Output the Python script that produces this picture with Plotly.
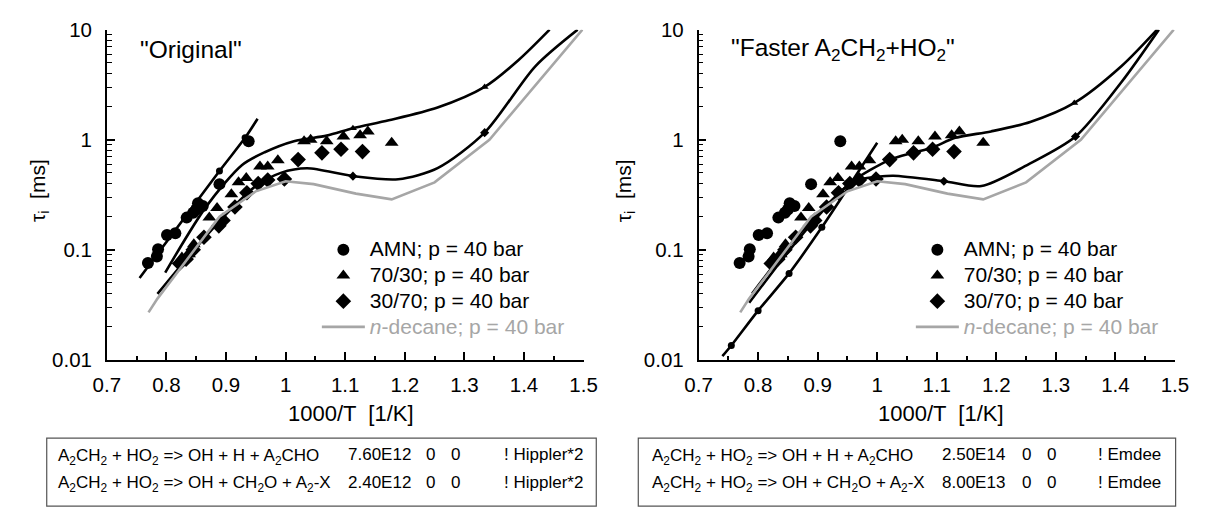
import plotly.graph_objects as go

W, H = 1216, 518

# ---------------- experimental data (same in both panels) ----------------
amn_x = [0.769, 0.784, 0.786, 0.801, 0.815, 0.834, 0.845, 0.850, 0.853, 0.861, 0.889, 0.938]
amn_y = [0.076, 0.087, 0.101, 0.136, 0.141, 0.196, 0.217, 0.232, 0.265, 0.250, 0.395, 0.97]

m7030_x = [0.826, 0.834, 0.838, 0.846, 0.872, 0.885, 0.909, 0.921, 0.934, 0.957, 0.970, 0.987,
           1.031, 1.042, 1.069, 1.097, 1.125, 1.138, 1.178]
m7030_y = [0.085, 0.088, 0.091, 0.112, 0.196, 0.24, 0.32, 0.41, 0.45, 0.57, 0.57, 0.65,
           0.97, 1.00, 0.97, 1.07, 1.10, 1.19, 0.94]

m3070_x = [0.822, 0.833, 0.845, 0.863, 0.888, 0.895, 0.915, 0.935, 0.954, 0.970, 0.998,
           1.021, 1.061, 1.093, 1.129]
m3070_y = [0.075, 0.082, 0.100, 0.130, 0.165, 0.185, 0.245, 0.33, 0.40, 0.43, 0.44,
           0.66, 0.76, 0.82, 0.78]

# n-decane simulation (grey, both panels)
dec_x = [0.770, 0.785, 0.889, 0.950, 1.000, 1.047, 1.118, 1.178, 1.250, 1.342, 1.498]
dec_y = [0.027, 0.036, 0.200, 0.340, 0.420, 0.395, 0.324, 0.287, 0.410, 1.00, 10.0]

# ---------------- "Original" simulations ----------------
L_amn_x = [0.755, 0.889, 0.932, 0.953]
L_amn_y = [0.0555, 0.52, 1.04, 1.55]
L_amn_mx = [0.889, 0.932]
L_amn_my = [0.52, 1.04]

L_up_x = [0.798, 0.867, 0.927, 0.965, 1.014, 1.069, 1.113, 1.173, 1.255, 1.334, 1.391, 1.443]
L_up_y = [0.062, 0.248, 0.59, 0.77, 0.97, 1.09, 1.27, 1.50, 1.96, 3.02, 5.3, 10.0]
L_up_mx = [1.113, 1.334]
L_up_my = [1.27, 3.02]

L_lo_x = [0.785, 0.850, 0.900, 0.950, 0.992, 1.036, 1.113, 1.189, 1.255, 1.334, 1.419, 1.490]
L_lo_y = [0.0397, 0.105, 0.21, 0.38, 0.50, 0.55, 0.467, 0.438, 0.552, 1.16, 4.65, 10.0]
L_lo_mx = [1.113, 1.334]
L_lo_my = [0.467, 1.16]

# ---------------- "Faster" simulations ----------------
R_amn_x = [0.740, 0.755, 0.800, 0.852, 0.907, 0.950, 1.000]
R_amn_y = [0.0108, 0.0135, 0.028, 0.061, 0.160, 0.36, 0.94]
R_amn_mx = [0.755, 0.800, 0.852, 0.907]
R_amn_my = [0.0135, 0.028, 0.061, 0.160]

R_up_x = [0.785, 0.850, 0.900, 0.956, 1.022, 1.060, 1.093, 1.131, 1.191, 1.257, 1.331, 1.410, 1.470]
R_up_y = [0.033, 0.095, 0.20, 0.41, 0.66, 0.76, 0.85, 1.04, 1.19, 1.45, 2.16, 4.65, 10.0]
R_up_mx = [1.331]
R_up_my = [2.16]

R_lo_x = [0.790, 0.850, 0.900, 0.950, 0.975, 1.000, 1.027, 1.112, 1.175, 1.257, 1.333, 1.410, 1.473]
R_lo_y = [0.040, 0.105, 0.21, 0.38, 0.44, 0.46, 0.47, 0.42, 0.38, 0.61, 1.07, 3.33, 10.0]
R_lo_mx = [1.112, 1.333]
R_lo_my = [0.42, 1.07]

x_ticks = [0.7, 0.8, 0.9, 1.0, 1.1, 1.2, 1.3, 1.4, 1.5]
x_labels = ["0.7", "0.8", "0.9", "1", "1.1", "1.2", "1.3", "1.4", "1.5"]
y_ticks = [0.01, 0.1, 1, 10]
y_labels = ["0.01", "0.1", "1", "10"]

LEG_FS = "font-size:21px"
legend_names = [f"<span style='{LEG_FS}'>AMN; p = 40 bar</span>",
                f"<span style='{LEG_FS}'>70/30; p = 40 bar</span>",
                f"<span style='{LEG_FS}'>30/70; p = 40 bar</span>",
                f"<span style='{LEG_FS};color:#a6a6a6'><i>n</i>-decane; p = 40 bar</span>"]

left_title = '"Original"'
right_title = '"Faster A<sub>2</sub>CH<sub>2</sub>+HO<sub>2</sub>"'

box_rows = [
    "A<sub>2</sub>CH<sub>2</sub> + HO<sub>2</sub> => OH + H + A<sub>2</sub>CHO",
    "A<sub>2</sub>CH<sub>2</sub> + HO<sub>2</sub> => OH + CH<sub>2</sub>O + A<sub>2</sub>-X",
]
left_rates = ["7.60E12", "2.40E12"]
right_rates = ["2.50E14", "8.00E13"]
temp_exp = ["0", "0"]          # b and E columns of the Arrhenius expression
left_src = ["! Hippler*2", "! Hippler*2"]
right_src = ["! Emdee", "! Emdee"]

FONT = "Liberation Sans, Arial, sans-serif"
BLACK = "#000000"
GREY = "#a6a6a6"

fig = go.Figure()


def px_x(p):
    return p / W


def px_y(p):
    return (H - p) / H


def add_panel(xa, ya, legend, sims):
    for (sx, sy, mx, my, sym) in sims:
        fig.add_trace(go.Scatter(x=sx, y=sy, mode="lines", xaxis=xa, yaxis=ya,
                                 line=dict(color=BLACK, width=2.6, shape="spline", smoothing=0.8),
                                 showlegend=False, hoverinfo="skip"))
        fig.add_trace(go.Scatter(x=mx, y=my, mode="markers", xaxis=xa, yaxis=ya,
                                 marker=dict(symbol=sym, size=7, color=BLACK),
                                 showlegend=False, hoverinfo="skip"))
    fig.add_trace(go.Scatter(x=amn_x, y=amn_y, mode="markers", xaxis=xa, yaxis=ya,
                             name=legend_names[0], legend=legend,
                             marker=dict(symbol="circle", size=12, color=BLACK)))
    fig.add_trace(go.Scatter(x=m7030_x, y=m7030_y, mode="markers", xaxis=xa, yaxis=ya,
                             name=legend_names[1], legend=legend,
                             marker=dict(symbol="triangle-up", size=12, color=BLACK)))
    fig.add_trace(go.Scatter(x=m3070_x, y=m3070_y, mode="markers", xaxis=xa, yaxis=ya,
                             name=legend_names[2], legend=legend,
                             marker=dict(symbol="diamond", size=12, color=BLACK)))
    fig.add_trace(go.Scatter(x=dec_x, y=dec_y, mode="lines", xaxis=xa, yaxis=ya,
                             name=legend_names[3], legend=legend,
                             line=dict(color=GREY, width=2.6)))


add_panel("x", "y", "legend", [
    (L_amn_x, L_amn_y, L_amn_mx, L_amn_my, "circle"),
    (L_up_x, L_up_y, L_up_mx, L_up_my, "triangle-up"),
    (L_lo_x, L_lo_y, L_lo_mx, L_lo_my, "diamond"),
])
add_panel("x2", "y2", "legend2", [
    (R_amn_x, R_amn_y, R_amn_mx, R_amn_my, "circle"),
    (R_up_x, R_up_y, R_up_mx, R_up_my, "triangle-up"),
    (R_lo_x, R_lo_y, R_lo_mx, R_lo_my, "diamond"),
])

minor_y = [m * 10 ** e for e in (-2, -1, 0) for m in range(2, 10)]

xa_common = dict(range=[0.7, 1.5], showline=True, linecolor=BLACK, linewidth=1.5,
                 showgrid=False, zeroline=False, ticks="inside", ticklen=8, tickwidth=1.5,
                 tickcolor=BLACK, tickvals=x_ticks, ticktext=x_labels,
                 tickfont=dict(family=FONT, size=20.5, color=BLACK), ticklabelstandoff=6,
                 minor=dict(ticks="inside", ticklen=4, tickwidth=1.5, tickcolor=BLACK,
                            dtick=0.05, tick0=0.7, showgrid=False))
ya_common = dict(type="log", range=[-2, 1], showline=True, linecolor=BLACK, linewidth=1.5,
                 showgrid=False, zeroline=False, ticks="inside", ticklen=8, tickwidth=1.5,
                 tickcolor=BLACK, tickvals=y_ticks, ticktext=y_labels,
                 tickfont=dict(family=FONT, size=20.5, color=BLACK), ticklabelstandoff=9,
                 minor=dict(ticks="inside", ticklen=5, tickwidth=1.2, tickcolor=BLACK,
                            tickvals=minor_y, showgrid=False))

leg_common = dict(xanchor="left", yanchor="top", bgcolor="rgba(0,0,0,0)",
                  font=dict(family=FONT, size=17.5, color=BLACK),
                  tracegroupgap=0, itemwidth=43)

y_dom = [px_y(364), px_y(18.5)]
fig.update_layout(
    width=W, height=H, margin=dict(l=0, r=0, t=0, b=0),
    paper_bgcolor="white", plot_bgcolor="white",
    font=dict(family=FONT, color=BLACK),
    xaxis=dict(domain=[px_x(95), px_x(583)], anchor="y", **xa_common),
    yaxis=dict(domain=y_dom, anchor="x", **ya_common),
    xaxis2=dict(domain=[px_x(700.7), px_x(1188.3)], anchor="y2", **xa_common),
    yaxis2=dict(domain=y_dom, anchor="x2", **ya_common),
    legend=dict(x=px_x(310), y=px_y(230), **leg_common),
    legend2=dict(x=px_x(918), y=px_y(230), **leg_common),
)

ann = []
ann.append(dict(text=left_title, x=px_x(127), y=px_y(39), xref="paper", yref="paper",
                xanchor="left", yanchor="middle", showarrow=False,
                font=dict(family=FONT, size=24.5, color=BLACK)))
ann.append(dict(text=right_title, x=px_x(732), y=px_y(39), xref="paper", yref="paper",
                xanchor="left", yanchor="middle", showarrow=False,
                font=dict(family=FONT, size=24.5, color=BLACK)))
for cx in (345, 949):
    ann.append(dict(text="1000/T  [1/K]", x=px_x(cx), y=px_y(420), xref="paper", yref="paper",
                    xanchor="center", yanchor="middle", showarrow=False,
                    font=dict(family=FONT, size=22, color=BLACK)))
for cx in (25, 625):
    ann.append(dict(text="τ<sub>i</sub>  [ms]", x=px_x(cx), y=px_y(187), xref="paper", yref="paper",
                    xanchor="center", yanchor="middle", showarrow=False, textangle=-90,
                    font=dict(family=FONT, size=21, color=BLACK)))

shapes = []
for (x0, x1) in ((33.5, 596), (639, 1189)):
    shapes.append(dict(type="rect", xref="paper", yref="paper",
                       x0=px_x(x0), x1=px_x(x1), y0=px_y(517), y1=px_y(446),
                       line=dict(color="#555555", width=1.2), fillcolor="rgba(0,0,0,0)"))

f = dict(family=FONT, size=17, color=BLACK)
for (ox, rates, srcs, c2, c3, c4) in ((43, left_rates, left_src, 340, 419.5, 500),
                                      (651, right_rates, right_src, 948, 1029.5, 1108)):
    for i, (ry_sub, ry) in enumerate(((465.7, 463.5), (494.2, 492))):
        ann.append(dict(text=box_rows[i], x=px_x(ox), y=px_y(ry_sub), xref="paper",
                        yref="paper", xanchor="left", yanchor="middle", showarrow=False, font=f))
        for txt, cx in ((rates[i], c2), (temp_exp[0], c3), (temp_exp[1], c3 + 25.5),
                        (srcs[i], c4)):
            ann.append(dict(text=txt, x=px_x(cx), y=px_y(ry), xref="paper", yref="paper",
                            xanchor="left", yanchor="middle", showarrow=False, font=f))

fig.update_layout(annotations=ann, shapes=shapes)
fig.write_html("out.html")
